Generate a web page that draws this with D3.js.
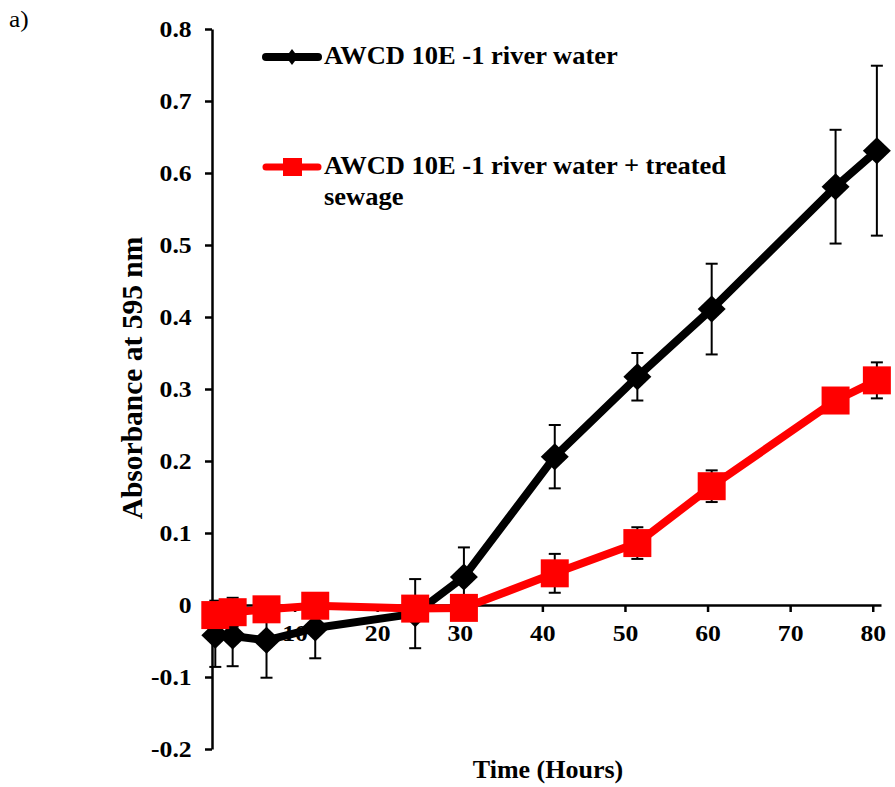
<!DOCTYPE html>
<html>
<head>
<meta charset="utf-8">
<script src="https://cdn.jsdelivr.net/npm/d3@7"></script>
<style>
body { margin: 0; background: #fff; }
text { font-family: "Liberation Serif", "Times New Roman", serif; }
</style>
</head>
<body>
<svg></svg>
<script>
// chart size
var width = 895;
var height = 787;

// data
var hours = [0.4, 2.5, 6.6, 12.5, 24.6, 30.5, 41.5, 51.5, 60.5, 75.5, 80.5];
var river = [-0.042, -0.043, -0.049, -0.032, -0.012, 0.039, 0.206, 0.317, 0.411, 0.581, 0.631];
var riverErr = [0.044, 0.042, 0.052, 0.042, 0.048, 0.041, 0.044, 0.033, 0.063, 0.079, 0.118];
var sewage = [-0.014, -0.010, -0.006, -0.001, -0.005, -0.004, 0.044, 0.086, 0.165, 0.284, 0.312];
var sewageErr = [0.02, 0.02, 0.01, 0.01, 0.01, 0.01, 0.027, 0.022, 0.022, 0.016, 0.025];

var xTicks = [0, 10, 20, 30, 40, 50, 60, 70, 80];
var yTicks = [-0.2, -0.1, 0, 0.1, 0.2, 0.3, 0.4, 0.5, 0.6, 0.7, 0.8];

var seriesNames = ["AWCD 10E -1 river water", "AWCD 10E -1 river water + treated", "sewage"];

var svg = d3.select("svg")
    .attr("width", width)
    .attr("height", height);

// scales
var xScale = d3.scaleLinear().domain([0, 81]).range([212, 881]);
var yScale = d3.scaleLinear().domain([-0.2, 0.8]).range([749, 29]);

// axes
var yAxis = svg.append("g")
    .attr("transform", "translate(" + xScale(0) + ",0)")
    .call(d3.axisLeft(yScale)
        .tickValues(yTicks)
        .tickSize(7)
        .tickSizeOuter(0)
        .tickPadding(12)
        .tickFormat(function(d) { return d === 0 ? "0" : d.toFixed(1); }));

var xAxis = svg.append("g")
    .attr("transform", "translate(0," + yScale(0) + ")")
    .call(d3.axisBottom(xScale)
        .tickValues(xTicks)
        .tickSize(7)
        .tickSizeOuter(0)
        .tickPadding(12));

[yAxis, xAxis].forEach(function(ax) {
    ax.select(".domain").attr("stroke", "#000").attr("stroke-width", 2.5);
    ax.selectAll(".tick line").attr("stroke", "#000").attr("stroke-width", 2.5);
    ax.selectAll(".tick text")
        .attr("fill", "#000")
        .style("font-size", "24px")
        .style("font-weight", "bold")
        .attr("transform", "scale(1.07,1)");
});

// axis titles
svg.append("text")
    .attr("text-anchor", "middle")
    .attr("transform", "translate(548,778) scale(1.04,1)")
    .style("font-size", "25px")
    .style("font-weight", "bold")
    .text("Time (Hours)");

svg.append("text")
    .attr("text-anchor", "middle")
    .attr("transform", "translate(142,378) rotate(-90)")
    .style("font-size", "29.5px")
    .style("font-weight", "bold")
    .text("Absorbance at 595 nm");

// panel letter
svg.append("text")
    .attr("transform", "translate(9,27) scale(1.1,1)")
    .style("font-size", "23px")
    .text("a)");

// draw one series: line, error bars, markers
var drawSeries = function(values, errs, color, marker) {
    var g = svg.append("g");
    var valueline = d3.line()
        .x(function(d, i) { return xScale(hours[i]); })
        .y(function(d) { return yScale(d); });

    g.append("path")
        .attr("d", valueline(values))
        .attr("fill", "none")
        .attr("stroke", color)
        .attr("stroke-width", 8)
        .attr("stroke-linejoin", "round");

    var bars = g.selectAll(".err").data(values).enter().append("g");
    bars.append("line")
        .attr("x1", function(d, i) { return xScale(hours[i]); })
        .attr("x2", function(d, i) { return xScale(hours[i]); })
        .attr("y1", function(d, i) { return yScale(d - errs[i]); })
        .attr("y2", function(d, i) { return yScale(d + errs[i]); });
    bars.append("line")
        .attr("x1", function(d, i) { return xScale(hours[i]) - 6; })
        .attr("x2", function(d, i) { return xScale(hours[i]) + 6; })
        .attr("y1", function(d, i) { return yScale(d + errs[i]); })
        .attr("y2", function(d, i) { return yScale(d + errs[i]); });
    bars.append("line")
        .attr("x1", function(d, i) { return xScale(hours[i]) - 6; })
        .attr("x2", function(d, i) { return xScale(hours[i]) + 6; })
        .attr("y1", function(d, i) { return yScale(d - errs[i]); })
        .attr("y2", function(d, i) { return yScale(d - errs[i]); });
    bars.selectAll("line").attr("stroke", "#000").attr("stroke-width", 2);

    g.selectAll(".mk").data(values).enter().append("path")
        .attr("transform", function(d, i) {
            return "translate(" + xScale(hours[i]) + "," + yScale(d) + ")";
        })
        .attr("d", marker)
        .attr("fill", color);
};

var diamond = "M-14,0L0,-13.5L14,0L0,13.5Z";
var square = "M-14,-14H14V14H-14Z";

drawSeries(river, riverErr, "#000", diamond);
drawSeries(sewage, sewageErr, "#ff0000", square);

// legend
var legend = svg.append("g");
legend.append("line")
    .attr("x1", 266).attr("x2", 318).attr("y1", 57).attr("y2", 57)
    .attr("stroke", "#000").attr("stroke-width", 8).attr("stroke-linecap", "round");
legend.append("path")
    .attr("transform", "translate(292,57)")
    .attr("d", "M-6,0L0,-8L6,0L0,8Z")
    .attr("fill", "#000");

legend.append("line")
    .attr("x1", 266).attr("x2", 318).attr("y1", 167).attr("y2", 167)
    .attr("stroke", "#ff0000").attr("stroke-width", 7).attr("stroke-linecap", "round");
legend.append("rect")
    .attr("x", 283).attr("y", 158).attr("width", 19).attr("height", 18)
    .attr("fill", "#ff0000");

[[seriesNames[0], 64], [seriesNames[1], 174], [seriesNames[2], 205]].forEach(function(t) {
    legend.append("text")
        .attr("transform", "translate(324," + t[1] + ") scale(1.06,1)")
        .style("font-size", "25px")
        .style("font-weight", "bold")
        .text(t[0]);
});
</script>
</body>
</html>
